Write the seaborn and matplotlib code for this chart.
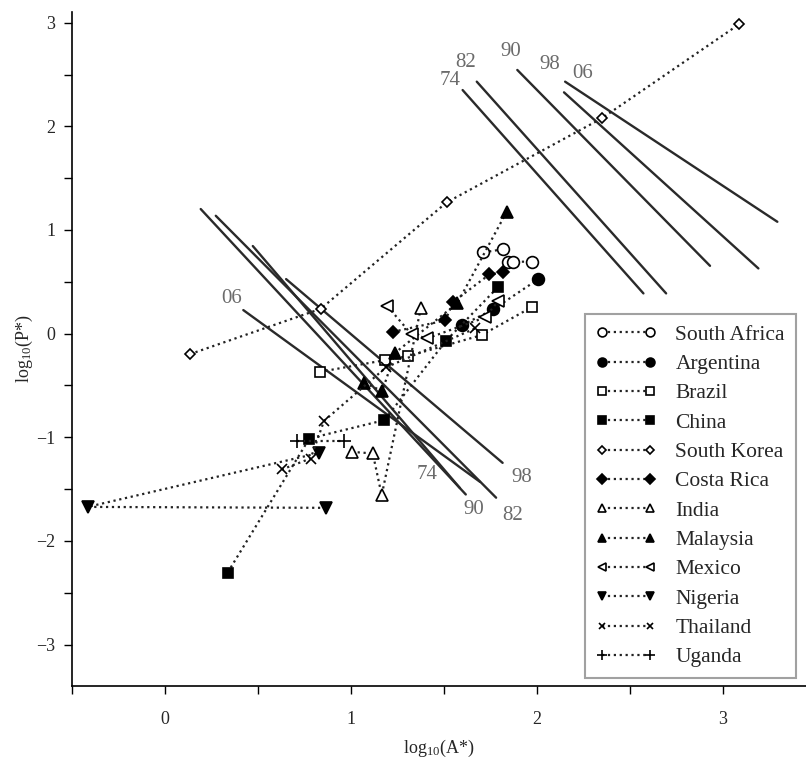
import matplotlib
matplotlib.use("Agg")
import matplotlib.pyplot as plt
import seaborn as sns
import numpy as np
from matplotlib.ticker import MultipleLocator

# ---------------- data (log10 A*, log10 P*) ----------------
countries = ["South Africa", "Argentina", "Brazil", "China", "South Korea",
             "Costa Rica", "India", "Malaysia", "Mexico", "Nigeria",
             "Thailand", "Uganda"]

south_africa_x = [1.711, 1.815, 1.842, 1.872, 1.971]
south_africa_y = [0.784, 0.813, 0.694, 0.694, 0.694]
argentina_x = [1.598, 1.765, 2.007]
argentina_y = [0.082, 0.234, 0.526]
brazil_x = [0.833, 1.183, 1.308, 1.703, 1.975]
brazil_y = [-0.369, -0.256, -0.217, -0.014, 0.259]
china_x = [0.337, 0.776, 1.179, 1.511, 1.792]
china_y = [-2.305, -1.012, -0.835, -0.069, 0.452]
south_korea_x = [0.134, 0.837, 1.514, 2.348, 3.088]
south_korea_y = [-0.198, 0.239, 1.266, 2.077, 2.987]
costa_rica_x = [1.224, 1.507, 1.550, 1.744, 1.816]
costa_rica_y = [0.017, 0.127, 0.307, 0.571, 0.591]
india_x = [1.004, 1.117, 1.165, 1.375]
india_y = [-1.141, -1.156, -1.559, 0.243]
malaysia_x = [1.072, 1.168, 1.237, 1.571, 1.837]
malaysia_y = [-0.475, -0.555, -0.185, 0.292, 1.176]
mexico_x = [1.195, 1.326, 1.410, 1.720, 1.792]
mexico_y = [0.265, -0.008, -0.046, 0.156, 0.314]
nigeria_x = [0.866, -0.416, 0.830]
nigeria_y = [-1.681, -1.672, -1.151]
thailand_x = [0.627, 0.783, 0.855, 1.188, 1.667]
thailand_y = [-1.311, -1.205, -0.842, -0.326, 0.050]
uganda_x = [0.708, 0.962]
uganda_y = [-1.035, -1.035]

# solid reference lines (start / end points), labelled by year
years = ["74", "82", "90", "98", "06"]
top_x0 = [1.600, 1.676, 1.894, 2.145, 2.151]
top_y0 = [2.350, 2.431, 2.544, 2.328, 2.431]
top_x1 = [2.572, 2.694, 2.930, 3.190, 3.292]
top_y1 = [0.388, 0.388, 0.654, 0.629, 1.079]
top_lab_x = [1.535, 1.617, 1.860, 2.066, 2.246]
top_lab_y = [2.447, 2.618, 2.720, 2.598, 2.511]

bot_x0 = [0.472, 0.273, 0.192, 0.651, 0.421]
bot_y0 = [0.845, 1.137, 1.202, 0.526, 0.227]
bot_x1 = [1.586, 1.780, 1.617, 1.815, 1.694]
bot_y1 = [-1.491, -1.583, -1.552, -1.247, -1.431]
bot_lab_x = [1.407, 1.869, 1.661, 1.918, 0.358]
bot_lab_y = [-1.359, -1.752, -1.697, -1.392, 0.340]

x_ticks = [0, 1, 2, 3]
y_ticks = [-3, -2, -1, 0, 1, 2, 3]

series_x = [south_africa_x, argentina_x, brazil_x, china_x, south_korea_x,
            costa_rica_x, india_x, malaysia_x, mexico_x, nigeria_x,
            thailand_x, uganda_x]
series_y = [south_africa_y, argentina_y, brazil_y, china_y, south_korea_y,
            costa_rica_y, india_y, malaysia_y, mexico_y, nigeria_y,
            thailand_y, uganda_y]

# ---------------- styles ----------------
styles = {
    "South Africa": dict(marker="o", ms=8.5, mfc="white"),
    "Argentina":    dict(marker="o", ms=8.5, mfc="black"),
    "Brazil":       dict(marker="s", ms=7.0, mfc="white"),
    "China":        dict(marker="s", ms=7.0, mfc="black"),
    "South Korea":  dict(marker="D", ms=5.5, mfc="white"),
    "Costa Rica":   dict(marker="D", ms=6.5, mfc="black"),
    "India":        dict(marker="^", ms=8.0, mfc="white"),
    "Malaysia":     dict(marker="^", ms=8.0, mfc="black"),
    "Mexico":       dict(marker="<", ms=8.0, mfc="white"),
    "Nigeria":      dict(marker="v", ms=8.0, mfc="black"),
    "Thailand":     dict(marker="x", ms=6.5, mfc="black"),
    "Uganda":       dict(marker="+", ms=10.0, mfc="black"),
}

sns.set_theme(style="ticks")
plt.rcParams["font.family"] = ["Liberation Serif", "DejaVu Serif"]
plt.rcParams["mathtext.fontset"] = "custom"
plt.rcParams["mathtext.rm"] = "Liberation Serif"
plt.rcParams["mathtext.it"] = "Liberation Serif:italic"
plt.rcParams["axes.unicode_minus"] = True

fig = plt.figure(figsize=(8.06, 7.61), dpi=100)
ax = fig.add_axes([72 / 806, 1 - 686 / 761, (806 - 72) / 806, (686 - 11.7) / 761])

line_col = "#2a2a2a"
for i in range(len(years)):
    sns.lineplot(x=[top_x0[i], top_x1[i]], y=[top_y0[i], top_y1[i]], ax=ax,
                 color=line_col, lw=1.7, sort=False, estimator=None, zorder=2)
    sns.lineplot(x=[bot_x0[i], bot_x1[i]], y=[bot_y0[i], bot_y1[i]], ax=ax,
                 color=line_col, lw=1.7, sort=False, estimator=None, zorder=2)
    ax.text(top_lab_x[i], top_lab_y[i], years[i], color="#6b6b6b", fontsize=15,
            ha="center", va="center")
    ax.text(bot_lab_x[i], bot_lab_y[i], years[i], color="#6b6b6b", fontsize=15,
            ha="center", va="center")

for name, xs, ys in zip(countries, series_x, series_y):
    st = styles[name]
    sns.lineplot(x=xs, y=ys, ax=ax, sort=False, estimator=None,
                 color="#222222", linestyle=":", lw=1.6,
                 marker=st["marker"], markersize=st["ms"],
                 markerfacecolor=st["mfc"], markeredgecolor="black",
                 markeredgewidth=1.2, label=name, zorder=3)

ax.set_xlim(-0.5, 3.446)
ax.set_ylim(-3.40, 3.106)
ax.set_xticks(x_ticks)
ax.set_yticks(y_ticks)
ax.xaxis.set_minor_locator(MultipleLocator(0.5))
ax.yaxis.set_minor_locator(MultipleLocator(0.5))
ax.tick_params(which="both", direction="out", length=6, width=1.0, color="black")
ax.tick_params(axis="x", which="major", labelsize=13, pad=12)
ax.tick_params(axis="y", which="major", labelsize=13, pad=6)
for s in ["left", "bottom"]:
    ax.spines[s].set_color("black")
    ax.spines[s].set_linewidth(1.2)
sns.despine(ax=ax)
ax.grid(False)

ax.set_xlabel("log$_{\\mathrm{10}}$(A*)", fontsize=13, labelpad=7)
ax.set_ylabel("log$_{\\mathrm{10}}$(P*)", fontsize=13, labelpad=1)

leg = ax.legend(loc="upper left", bbox_to_anchor=(585 / 806, 1 - 314 / 761),
                bbox_transform=fig.transFigure, borderaxespad=0,
                fontsize=15.5, frameon=True, fancybox=False, numpoints=2,
                handlelength=2.8, handletextpad=0.9, labelspacing=0.43,
                borderpad=0.5, markerscale=0.75)
leg.get_frame().set_edgecolor("#8a8a8a")
leg.get_frame().set_linewidth(1.5)

fig.savefig("out.png", dpi=100)
